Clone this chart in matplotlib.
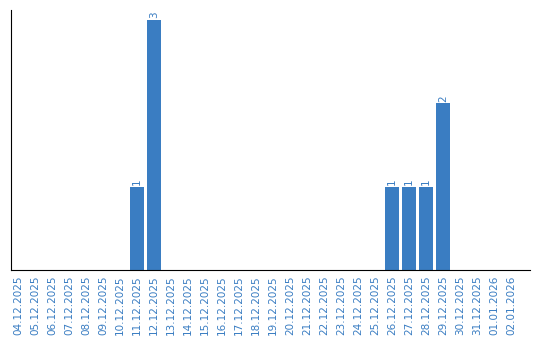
import matplotlib.pyplot as plt

# dates shown on the x axis and the count for each day
dates = ["04.12.2025", "05.12.2025", "06.12.2025", "07.12.2025", "08.12.2025",
         "09.12.2025", "10.12.2025", "11.12.2025", "12.12.2025", "13.12.2025",
         "14.12.2025", "15.12.2025", "16.12.2025", "17.12.2025", "18.12.2025",
         "19.12.2025", "20.12.2025", "21.12.2025", "22.12.2025", "23.12.2025",
         "24.12.2025", "25.12.2025", "26.12.2025", "27.12.2025", "28.12.2025",
         "29.12.2025", "30.12.2025", "31.12.2025", "01.01.2026", "02.01.2026"]
counts = [0, 0, 0, 0, 0, 0, 0, 1, 3, 0,
          0, 0, 0, 0, 0, 0, 0, 0, 0, 0,
          0, 0, 1, 1, 1, 2, 0, 0, 0, 0]

blue = "#3a7dc2"

fig = plt.figure(figsize=(5.4, 3.4), dpi=100)
ax = fig.add_axes([11 / 540, 70 / 340, 519 / 540, 260 / 340])

x = list(range(len(dates)))
ax.bar(x, counts, width=0.82, color=blue)

# value labels above non-empty bars
for xi, c in zip(x, counts):
    if c > 0:
        ax.text(xi, c + 0.02, str(c), rotation=90, ha="center", va="bottom",
                color=blue, fontsize=7.5)

ax.set_xlim(-0.41, 30.12)
ax.set_ylim(0, 3.12)
ax.set_xticks(x)
ax.set_xticklabels(dates, rotation=90, fontsize=7.5, color=blue)
ax.tick_params(axis="x", length=0, pad=4)
ax.set_yticks([])
ax.spines["top"].set_visible(False)
ax.spines["right"].set_visible(False)

fig.savefig("out.png", dpi=100)
